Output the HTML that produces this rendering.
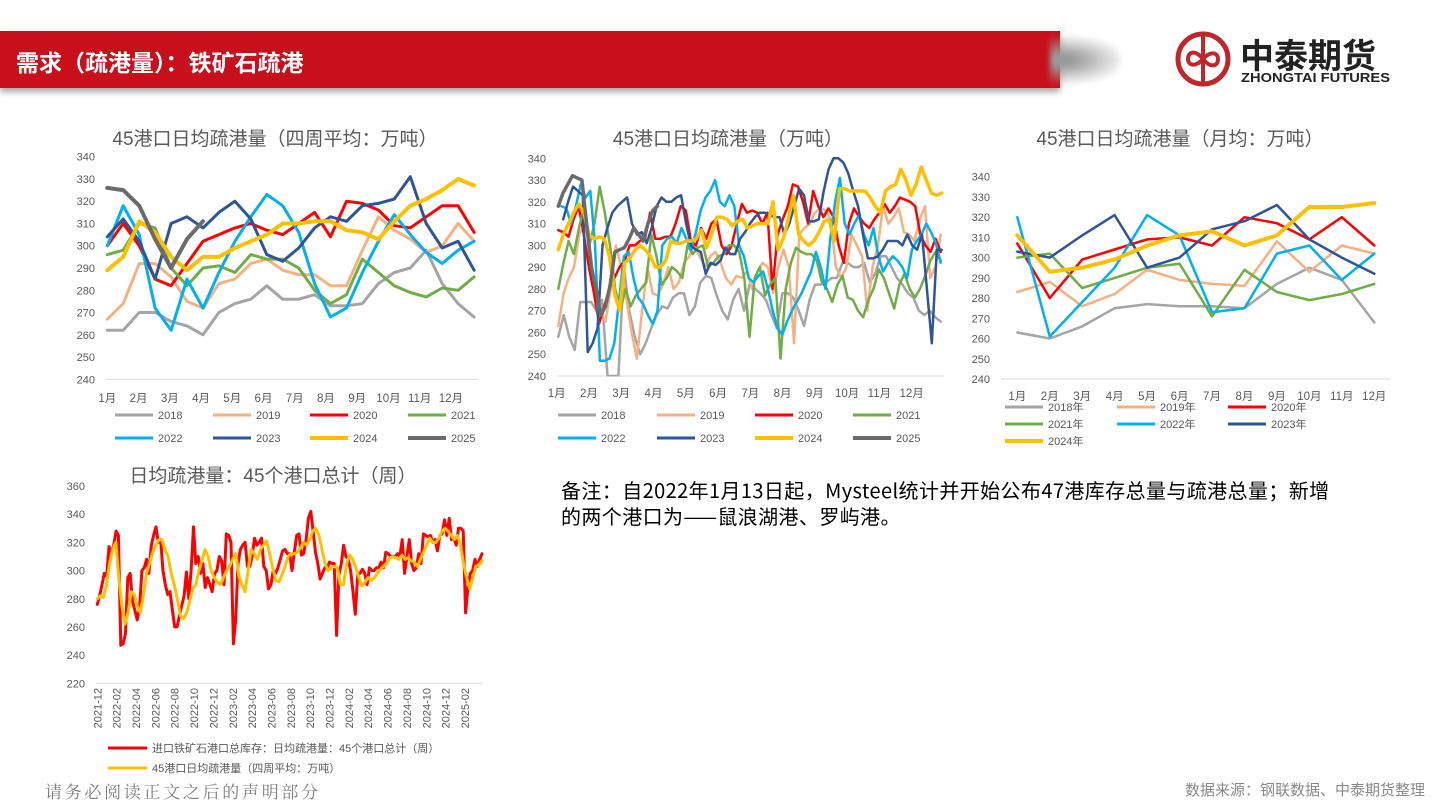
<!DOCTYPE html>
<html><head><meta charset="utf-8">
<style>
body{margin:0;width:1440px;height:810px;overflow:hidden;background:#fff;font-family:"Liberation Sans","Noto Sans CJK SC",sans-serif;position:relative}
#hdr{position:absolute;left:0;top:31px;width:1060px;height:57px;background:#c8101c;box-shadow:0 4px 6px rgba(0,0,0,0.35)}
#hdr span{position:absolute;left:16px;top:13px;color:#fff;font-weight:bold;font-size:23px;font-family:"Noto Sans CJK SC",sans-serif}
#shade{position:absolute;left:1050px;top:36px;width:70px;height:48px;border-radius:0 50% 50% 0/0 50% 50% 0;background:radial-gradient(ellipse 70px 26px at 10px 24px,#9a9a9a 20%,rgba(200,200,200,0) 100%);filter:blur(3px)}
#note{position:absolute;left:561px;top:477px;font-size:20px;line-height:26px;color:#000;letter-spacing:0.4px;font-family:"Noto Sans CJK SC",sans-serif}
#foot1{position:absolute;left:45px;top:778px;font-size:17px;color:#7f7f7f;letter-spacing:2.7px;font-family:"Noto Serif CJK SC",serif}
#foot2{position:absolute;right:15px;top:779px;font-size:15px;color:#8a8a8a;font-family:"Noto Sans CJK SC",sans-serif}
svg text{font-family:"Liberation Sans","Noto Sans CJK SC",sans-serif}
</style></head><body>
<div id="hdr"><span>需求（疏港量）：铁矿石疏港</span></div>
<div id="shade"></div>
<svg style="position:absolute;left:1170px;top:28px" width="270" height="62">
<circle cx="33" cy="31" r="25" fill="none" stroke="#c0272d" stroke-width="5"/>
<path d="M33 8 V54 M18 31 c0-7 7-10 15-0 s15 7 15 0 s-8-8 -15 0 s-15 7-15 0" fill="none" stroke="#c0272d" stroke-width="4"/>
<text x="70" y="40" font-size="34" font-weight="bold" fill="#222" style="font-family:'Noto Sans CJK SC',sans-serif">中泰期货</text>
<text x="71" y="54" font-size="13" font-weight="bold" fill="#222" textLength="149" lengthAdjust="spacingAndGlyphs">ZHONGTAI FUTURES</text>
</svg>
<div id="note">备注：自2022年1月13日起，Mysteel统计并开始公布47港库存总量与疏港总量；新增<br>的两个港口为——鼠浪湖港、罗屿港。</div>
<div id="foot1">请务必阅读正文之后的声明部分</div>
<div id="foot2">数据来源：钢联数据、中泰期货整理</div>
<svg id="charts" style="position:absolute;left:0;top:0" width="1440" height="810">
<defs>
<clipPath id="cp1"><rect x="100" y="150" width="385" height="230"/></clipPath>
<clipPath id="cp2"><rect x="550" y="150" width="400" height="226.5"/></clipPath>
<clipPath id="cp3"><rect x="990" y="160" width="410" height="220"/></clipPath>
<clipPath id="cp4"><rect x="90" y="480" width="400" height="204"/></clipPath>
</defs>
</svg>
<script>
const years=["2018","2019","2020","2021","2022","2023","2024","2025"];
const colors=["#a5a5a5","#f4b183","#ff0000","#70ad47","#00b0f0","#2f5597","#ffc000","#6b6b6b"];
const monthLabels=["1月","2月","3月","4月","5月","6月","7月","8月","9月","10月","11月","12月"];
const yTicks=[240,250,260,270,280,290,300,310,320,330,340];
// chart 1: 4-week average (semi-monthly samples)
const c1_2018=[262,262,270,270,266,264,260,270,274,276,282,276,276,278,273,273,274,283,288,290,298,283,274,268];
const c1_2019=[267,274,292,292,286,275,272,283,285,292,294,289,287,287,282,282,298,313,307,303,297,300,310,302];
const c1_2020=[300,310,300,285,282,292,302,305,308,310,307,305,310,315,304,320,319,316,309,308,313,318,318,306];
const c1_2021=[296,298,310,308,290,282,290,291,288,296,294,294,290,280,274,278,294,288,282,279,277,281,280,286];
const c1_2022=[300,318,305,272,262,285,272,288,302,313,323,318,306,283,268,272,288,302,314,305,297,292,298,302];
const c1_2023=[304,312,302,285,310,313,308,315,320,312,296,293,299,308,313,311,318,319,321,331,310,299,302,289];
const c1_2024=[289,295,311,306,295,289,295,295,299,302,305,310,310,311,311,307,306,303,311,318,321,325,330,327];
const c1_2025=[326,325,318,303,290,303,311];
// chart 2: weekly
const c2_2018=[258,268,258,252,274,274,274,270,275,240,240,240,290,270,258,250,255,262,268,272,271,276,278,278,268,272,283,286,285,277,270,266,275,280,270,282,280,278,275,268,262,278,278,276,270,263,275,282,282,283,285,285,292,292,290,290,292,283,287,295,295,290,285,282,278,276,270,268,270,267,265];
const c2_2019=[263,278,285,290,305,310,300,280,270,265,280,300,290,275,260,248,270,290,278,277,282,290,280,283,292,295,300,295,290,295,297,292,285,282,286,285,288,280,288,292,290,278,290,298,290,255,305,308,310,315,317,316,312,290,285,290,305,300,295,270,290,300,318,310,313,317,306,305,302,312,318,285,290,305];
const c2_2020=[307,306,304,312,318,305,290,278,264,272,280,285,290,293,300,300,302,303,315,303,303,304,304,310,318,316,302,300,308,303,310,312,300,296,300,310,319,315,316,315,310,315,280,305,312,318,328,327,320,310,325,318,313,317,313,300,292,310,317,313,310,308,312,315,319,315,318,322,321,320,318,305,300,297,303,297];
const c2_2021=[280,292,302,296,308,318,300,310,327,315,300,280,270,280,272,277,280,283,305,295,282,285,290,288,285,300,296,299,300,290,292,295,296,300,300,297,285,258,285,290,277,282,285,248,280,292,299,297,296,296,293,283,280,274,282,286,276,275,270,267,275,280,289,285,278,271,282,287,280,276,280,286,293,297,293];
const c2_2022=[318,317,310,318,328,322,325,300,247,247,248,255,275,295,297,285,276,273,268,264,270,300,303,304,301,308,303,298,306,316,322,325,330,320,318,323,318,300,295,285,283,286,288,280,270,262,259,265,270,274,278,283,288,297,290,280,303,320,331,310,305,310,314,305,300,308,295,288,292,295,293,290,285,298,302,305,310,306,301,292];
const c2_2023=[312,320,327,325,323,251,255,262,300,308,315,318,320,322,310,305,306,301,308,318,322,320,320,322,323,310,300,298,297,287,292,291,293,299,296,296,303,306,310,313,315,315,314,313,313,305,310,318,326,323,311,311,312,325,335,340,340,338,333,325,318,305,294,294,295,298,302,302,302,300,305,300,298,305,280,255,298,298];
const c2_2024=[298,305,310,315,319,315,305,303,304,303,295,278,270,292,294,298,300,298,295,290,290,293,302,301,301,302,302,303,307,299,305,313,313,312,309,311,312,308,309,310,310,310,320,298,303,312,323,305,302,300,302,306,311,312,302,326,326,325,325,325,325,322,318,315,325,327,328,335,330,323,328,336,330,324,323,324];
const c2_2025=[318,324,328,332,331,330,310,290,280,268,272,282,297,298,299,303,308,305,302,310,316,318];
// chart 3: monthly averages
const c3_2018=[263,260,266,275,277,276,276,275,287,295,289,268];
const c3_2019=[283,288,276,282,294,289,287,286,308,293,306,302];
const c3_2020=[307,280,299,304,309,310,306,320,317,309,320,306];
const c3_2021=[300,302,285,290,295,297,271,294,283,279,282,287];
const c3_2022=[320,261,278,295,321,311,273,275,302,306,289,302];
const c3_2023=[303,300,311,321,295,300,314,318,326,309,300,292];
const c3_2024=[311,293,295,299,306,311,313,306,311,325,325,327];
// chart 4: weekly total and 4-week average, Dec 2021 - Mar 2025
const c4_weekly=[276,282,290,298,296,317,312,318,328,325,247,248,255,295,298,278,272,265,273,300,302,308,298,318,325,331,320,322,300,290,283,285,272,260,260,268,275,282,299,280,300,331,305,310,298,305,288,295,290,285,298,300,310,307,290,326,325,320,248,265,305,315,318,320,303,303,310,323,318,320,323,303,300,287,290,300,298,302,308,314,315,312,312,300,313,325,326,311,312,322,337,342,328,313,305,294,298,302,302,306,305,305,254,297,305,318,310,308,300,285,269,297,298,301,298,290,302,300,300,302,302,306,302,313,312,310,310,310,312,310,322,298,310,322,305,300,302,312,305,326,325,324,325,320,322,314,325,326,336,325,337,322,323,318,330,330,328,270,288,298,300,308,303,308,312];
const c4_avg=[280,282,281,290,305,315,320,295,275,262,270,285,283,275,270,283,298,305,313,318,322,322,315,310,298,290,280,268,266,270,278,287,290,300,307,315,310,300,295,292,290,295,300,303,308,312,296,290,285,300,315,312,308,315,318,321,312,302,293,292,297,303,310,312,312,313,316,320,318,322,328,330,325,315,305,300,302,303,302,290,290,305,311,308,302,295,289,292,295,293,295,298,301,303,305,309,310,309,308,311,308,309,307,306,303,308,313,318,323,320,320,323,328,330,328,325,322,325,318,305,295,287,295,303,304,307];
const c4_dates=["2021-12","2022-02","2022-04","2022-06","2022-08","2022-10","2022-12","2023-02","2023-04","2023-06","2023-08","2023-10","2023-12","2024-02","2024-04","2024-06","2024-08","2024-10","2024-12","2025-02"];
const c4_ticks=[220,240,260,280,300,320,340,360];

const NS="http://www.w3.org/2000/svg";
const svg=document.getElementById('charts');
function mk(tag,attrs,parent){const e=document.createElementNS(NS,tag);for(const k in attrs)e.setAttribute(k,attrs[k]);(parent||svg).appendChild(e);return e;}
function txt(x,y,s,size,fill,anchor,parent){const t=mk('text',{x:x,y:y,'font-size':size,fill:fill,'text-anchor':anchor||'start'},parent);t.textContent=s;return t;}

function series(g,vals,m0,m1,X,Y,color,w,clip){
  const n=vals.length;const pts=vals.map((v,i)=>X(m0+(n>1?(m1-m0)*i/(n-1):0)).toFixed(1)+','+Y(v).toFixed(1)).join(' ');
  return mk('polyline',{points:pts,fill:'none',stroke:color,'stroke-width':w,'stroke-linejoin':'round','stroke-linecap':'round','clip-path':'url(#'+clip+')'},g);
}

// ---------- Chart 1 ----------
(function(){
  const g=mk('g',{});
  
  
  const X=m=>107.3+(m-1)*31.24, Y=v=>379.3-(v-240)*2.226;
  const t=txt(275,145,'45港口日均疏港量（四周平均：万吨）',19,'#595959','middle',g);
  
  
  yTicks.forEach(v=>{const l=txt(95,Y(v)+4,String(v),11,'#595959','end',g);
    
    });
  mk('line',{x1:106,x2:478,y1:Y(240),y2:Y(240),stroke:'#d9d9d9','stroke-width':1},g);
  monthLabels.forEach((s,i)=>{const l=txt(X(i+1),402,s,11.5,'#595959','middle',g);
    
    });
  const data=[c1_2018,c1_2019,c1_2020,c1_2021,c1_2022,c1_2023,c1_2024,c1_2025];
  data.forEach((d,i)=>{const end=i===7?4.06:12.74;const p=series(g,d,1,end,X,Y,colors[i],i>=6?4:3,'cp1');
    
    });
  const cols=[115,213,310,408];
  years.forEach((y,i)=>{const cx=cols[i%4],cy=i<4?415:438;
    const lg=mk('g',{},g);
    
    
    mk('line',{x1:cx,x2:cx+38,y1:cy,y2:cy,stroke:colors[i],'stroke-width':i>=6?4:3},lg);
    txt(cx+43,cy+4,y,11,'#595959','start',lg);});
})();

// ---------- Chart 2 ----------
(function(){
  const g=mk('g',{});
  
  
  const X=m=>556.7+(m-1)*32.27, Y=v=>376-(v-240)*2.177;
  const t=txt(728,145,'45港口日均疏港量（万吨）',19,'#595959','middle',g);
  
  
  yTicks.forEach(v=>{const l=txt(546,Y(v)+4,String(v),11,'#595959','end',g);
    
    });
  mk('line',{x1:557,x2:944,y1:Y(240),y2:Y(240),stroke:'#d9d9d9','stroke-width':1},g);
  monthLabels.forEach((s,i)=>{const l=txt(X(i+1),397,s,11.5,'#595959','middle',g);
    
    });
  const data=[c2_2018,c2_2019,c2_2020,c2_2021,c2_2022,c2_2023,c2_2024,c2_2025];
  const starts=[1.05,1.05,1.05,1.05,1.15,1.2,1.05,1.05];
  const ends=[12.9,12.9,12.9,12.9,12.9,12.93,12.93,4.12];
  data.forEach((d,i)=>{const p=series(g,d,starts[i],ends[i],X,Y,colors[i],i>=6?3.5:2.5,'cp2');
    
    });
  const cols=[558,657,755,853];
  years.forEach((y,i)=>{const cx=cols[i%4],cy=i<4?415:438;
    const lg=mk('g',{},g);
    
    
    mk('line',{x1:cx,x2:cx+38,y1:cy,y2:cy,stroke:colors[i],'stroke-width':i>=6?4:3},lg);
    txt(cx+43,cy+4,y,11,'#595959','start',lg);});
})();

// ---------- Chart 3 ----------
(function(){
  const g=mk('g',{});
  
  
  const X=m=>1017.3+(m-1)*32.45, Y=v=>379-(v-240)*2.023;
  const t=txt(1180,145,'45港口日均疏港量（月均：万吨）',19,'#595959','middle',g);
  
  
  yTicks.forEach(v=>{const l=txt(990,Y(v)+4,String(v),11,'#595959','end',g);
    
    });
  mk('line',{x1:1001,x2:1390,y1:Y(240),y2:Y(240),stroke:'#d9d9d9','stroke-width':1},g);
  monthLabels.forEach((s,i)=>{const l=txt(X(i+1),400,s,11.5,'#595959','middle',g);
    
    });
  const data=[c3_2018,c3_2019,c3_2020,c3_2021,c3_2022,c3_2023,c3_2024];
  data.forEach((d,i)=>{const p=series(g,d,1,12,X,Y,colors[i],i===6?4:2.5,'cp3');
    
    });
  const cols=[1005,1117,1228];
  years.slice(0,7).forEach((y,i)=>{const cx=cols[i%3],cy=407+Math.floor(i/3)*17;
    const lg=mk('g',{},g);
    
    
    mk('line',{x1:cx,x2:cx+38,y1:cy,y2:cy,stroke:colors[i],'stroke-width':i===6?4:3},lg);
    txt(cx+43,cy+4,y+'年',11,'#595959','start',lg);});
})();

// ---------- Chart 4 ----------
(function(){
  const g=mk('g',{});
  
  
  const x0=97.3,x1=482, Y=v=>683.3-(v-220)*1.409;
  const t=txt(273,482,'日均疏港量：45个港口总计（周）',19,'#595959','middle',g);
  
  
  c4_ticks.forEach(v=>{const l=txt(85,Y(v)+4,String(v),11,'#595959','end',g);
    
    });
  mk('line',{x1:96,x2:482,y1:Y(220),y2:Y(220),stroke:'#d9d9d9','stroke-width':1},g);
  const step=(465-97.3)/(c4_dates.length-1);
  c4_dates.forEach((s,i)=>{const x=97.3+i*step;const l=txt(0,0,s,11,'#595959','end',g);
    l.setAttribute('transform','translate('+(x+4)+',688) rotate(-90)');
    
    });
  const X=f=>x0+f*(x1-x0);
  const r=series(g,c4_weekly,0,1,X,Y,'#ff0000',3,'cp4');
  
  
  const a=series(g,c4_avg,0,1,X,Y,'#ffc000',3,'cp4');
  
  
  const l1=mk('g',{},g);
  
  
  mk('line',{x1:108,x2:147,y1:748,y2:748,stroke:'#ff0000','stroke-width':3},l1);
  txt(152,752,'进口铁矿石港口总库存：日均疏港量：45个港口总计（周）',11,'#595959','start',l1);
  const l2=mk('g',{},g);
  
  
  mk('line',{x1:108,x2:147,y1:768,y2:768,stroke:'#ffc000','stroke-width':3},l2);
  txt(152,772,'45港口日均疏港量（四周平均：万吨）',11,'#595959','start',l2);
})();
</script>
</body></html>
